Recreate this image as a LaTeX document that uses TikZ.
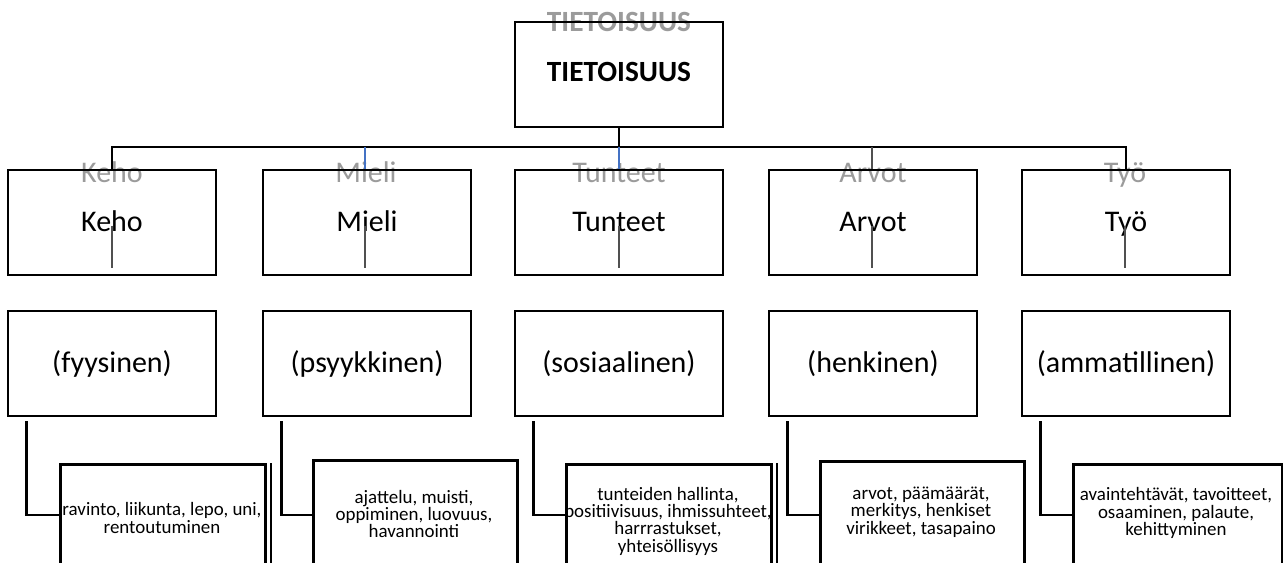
\documentclass[tikz,border=0pt]{standalone}
\usepackage{fontspec}
\setmainfont{Carlito}
\definecolor{ghost}{RGB}{155,155,155}
\definecolor{wordblue}{RGB}{68,114,196}
\definecolor{innergray}{RGB}{80,80,80}
\tikzset{
  box/.style={draw=black, line width=2pt, rectangle, inner sep=0pt,
    minimum width=156pt, minimum height=78.75pt, align=center},
  topbox/.style={box, font=\fontsize{22}{26}\selectfont\bfseries, text height=15pt, text depth=3.8pt},
  lone/.style={box, font=\fontsize{22.5}{26}\selectfont, text height=16pt, text depth=1.8pt},
  ltwo/.style={box, font=\fontsize{22.5}{26}\selectfont, text height=17pt, text depth=4.2pt},
  lthree/.style={draw=black, line width=2pt, rectangle, inner sep=0pt,
    anchor=north west, minimum height=78pt},
  lthreetext/.style={align=center, inner sep=0pt, font=\fontsize{14.2}{13}\selectfont},
  ghosttext/.style={text=ghost, inner sep=0pt, anchor=base},
  conn/.style={draw=black, line width=2pt},
  blueconn/.style={draw=wordblue, line width=1.6pt},
  thinconn/.style={draw=innergray, line width=0.9pt},
  innerline/.style={draw=innergray, line width=1pt},
  extraline/.style={draw=black, line width=1pt}
}
\begin{document}
\begin{tikzpicture}[x=0.75pt, y=-0.75pt]
\useasboundingbox (0,0) rectangle (1283,562);
\clip (0,0) rectangle (1283,562);
\fill[white] (0,0) rectangle (1283,562);

% ghost labels
\node[ghosttext, font=\fontsize{22}{26}\selectfont\bfseries] (gtop) at (619,31) {TIETOISUUS};
\node[ghosttext, font=\fontsize{22.5}{26}\selectfont] (g1) at (112,182) {Keho};
\node[ghosttext, font=\fontsize{22.5}{26}\selectfont] (g2) at (366,182) {Mieli};
\node[ghosttext, font=\fontsize{22.5}{26}\selectfont] (g3) at (619,182) {Tunteet};
\node[ghosttext, font=\fontsize{22.5}{26}\selectfont] (g4) at (873,182) {Arvot};
\node[ghosttext, font=\fontsize{22.5}{26}\selectfont] (g5) at (1125,182) {Työ};

% top box
\node[topbox] (top) at (619,74.5) {TIETOISUUS};

% level 1
\node[lone] (k1) at (112,222.5) {Keho};
\node[lone] (m1) at (367,222.5) {Mieli};
\node[lone] (t1) at (619,222.5) {Tunteet};
\node[lone] (a1) at (873,222.5) {Arvot};
\node[lone] (y1) at (1126,222.5) {Työ};

% bus
\coordinate (bus) at (top.south |- 0,147);
\draw[conn] (top.south) -- (bus);
\draw[conn] (k1.north) |- (bus);
\draw[conn] (y1.north) |- (bus);
\draw[blueconn] (m1.north) ++(-1.5pt,0) -- ++(0,16.5pt);
\draw[blueconn] (t1.north) -- ++(0,16.5pt);
\draw[thinconn] (a1.north) ++(-0.75pt,0) -- ++(0,16.5pt);

% inner thin lines
\foreach \n/\dx in {k1/0, m1/-1.5, t1/0, a1/-0.75, y1/-0.75}{
  \draw[innerline] ([xshift=\dx pt, yshift=-2.25pt]\n.center) -- ([xshift=\dx pt, yshift=6pt]\n.south);
}

% level 2
\node[ltwo] (k2) at (112,363.5) {(fyysinen)};
\node[ltwo] (m2) at (367,363.5) {(psyykkinen)};
\node[ltwo] (t2) at (619,363.5) {(sosiaalinen)};
\node[ltwo] (a2) at (873,363.5) {(henkinen)};
\node[ltwo] (y2) at (1126,363.5) {(ammatillinen)};

% level 3 boxes
\node[lthree, minimum width=153.75pt] (k3) at (59,463) {};
\node[lthree, minimum width=153pt, minimum height=84pt] (m3) at (312,459) {};
\node[lthree, minimum width=153.75pt] (t3) at (565,463) {};
\node[lthree, minimum width=153pt, minimum height=82.5pt] (a3) at (819,460) {};
\node[lthree, minimum width=156.75pt] (y3) at (1072,463) {};

\draw[extraline] ([xshift=3.3pt]k3.north east) -- ([xshift=3.3pt]k3.south east);
\draw[extraline] ([xshift=3.3pt]t3.north east) -- ([xshift=3.3pt]t3.south east);

% level 3 texts
\node[lthreetext] (k3t) at (162,518) {ravinto, liikunta, lepo, uni,\\rentoutuminen};
\node[lthreetext] (m3t) at (414,514) {ajattelu, muisti,\\oppiminen, luovuus,\\havannointi};
\node[lthreetext] (t3t) at (668,521) {tunteiden hallinta,\\positiivisuus, ihmissuhteet,\\harrrastukset,\\yhteisöllisyys};
\node[lthreetext] (a3t) at (921,512) {arvot, päämäärät,\\merkitys, henkiset\\virikkeet, tasapaino};
\node[lthreetext] (y3t) at (1176,513) {avaintehtävät, tavoitteet,\\osaaminen, palaute,\\kehittyminen};

% level 2 -> level 3 connectors
\foreach \a/\b in {k2/k3, m2/m3, t2/t3, a2/a3, y2/y3}{
  \draw[conn] ([xshift=15pt, yshift=-3pt]\a.south west) |- (\b.west |- 0,515);
}
\end{tikzpicture}
\end{document}
